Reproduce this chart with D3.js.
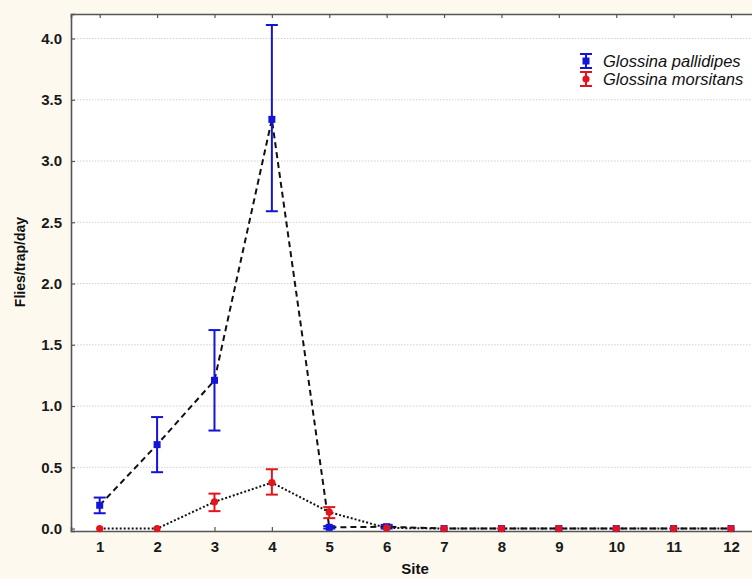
<!DOCTYPE html>
<html>
<head>
<meta charset="utf-8">
<script src="https://cdn.jsdelivr.net/npm/d3@7"></script>
<style>
  body { margin: 0; background: #fdf9ee; }
  svg { display: block; font-family: "Liberation Sans", Arial, sans-serif; }
</style>
</head>
<body>
<svg></svg>
<script>
const sites = [1, 2, 3, 4, 5, 6, 7, 8, 9, 10, 11, 12];
const pallidipesMean = [0.19, 0.685, 1.21, 3.34, 0.01, 0.015, 0, 0, 0, 0, 0, 0];
const pallidipesLow  = [0.125, 0.46, 0.80, 2.59, 0.0, 0.0, 0, 0, 0, 0, 0, 0];
const pallidipesHigh = [0.253, 0.91, 1.62, 4.11, 0.02, 0.03, 0, 0, 0, 0, 0, 0];
const morsitansMean = [0, 0, 0.218, 0.375, 0.134, 0.005, 0, 0, 0, 0, 0, 0];
const morsitansLow  = [0, 0, 0.142, 0.277, 0.085, 0.0, 0, 0, 0, 0, 0, 0];
const morsitansHigh = [0, 0, 0.285, 0.484, 0.175, 0.01, 0, 0, 0, 0, 0, 0];
const yTicks = [0, 0.5, 1.0, 1.5, 2.0, 2.5, 3.0, 3.5, 4.0];
const seriesNames = ['Glossina pallidipes', 'Glossina morsitans'];

const width = 752;
const height = 579;
const plotLeft = 71, plotTop = 14, plotBottom = 531;

const blue = '#1414d8';
const red = '#e4141c';

const svg = d3.select('svg')
    .attr('width', width)
    .attr('height', height);

const x = d3.scaleLinear().domain([0.5, 12.5]).range([plotLeft, 759.7]);
const y = d3.scaleLinear().domain([-0.02, 4.2]).range([plotBottom, plotTop]);

// plot area
svg.append('rect')
    .attr('x', plotLeft).attr('y', plotTop)
    .attr('width', width - plotLeft).attr('height', plotBottom - plotTop)
    .attr('fill', '#ffffff');

// grid
svg.append('g').selectAll('line')
    .data(yTicks.filter(d => d > 0))
    .enter().append('line')
    .attr('x1', plotLeft).attr('x2', width)
    .attr('y1', d => y(d)).attr('y2', d => y(d))
    .attr('stroke', '#d0d0d0')
    .attr('stroke-width', 1)
    .attr('stroke-dasharray', '1.5,1.5');

// axes
const yAxis = d3.axisLeft(y).tickValues(yTicks).tickFormat(d3.format('.1f')).tickSize(-4).tickPadding(9);
const gy = svg.append('g').attr('transform', 'translate(' + plotLeft + ',0)').call(yAxis);
const xAxis = d3.axisBottom(x).tickValues(sites).tickSize(-4).tickPadding(10);
const gx = svg.append('g').attr('transform', 'translate(0,' + plotBottom + ')').call(xAxis);
const xTop = d3.axisTop(x).tickValues(sites).tickSize(-4).tickFormat('');
const gt = svg.append('g').attr('transform', 'translate(0,' + plotTop + ')').call(xTop);

[gy, gx, gt].forEach(g => {
    g.select('.domain').attr('stroke', '#555').attr('stroke-width', 1.6);
    g.selectAll('.tick line').attr('stroke', '#555').attr('stroke-width', 1.2);
    g.selectAll('.tick text')
        .attr('fill', '#1a1a1a')
        .style('font-size', '15px')
        .style('font-weight', 'bold');
});

// lines
const line = d3.line().x((d, i) => x(sites[i])).y(d => y(d));

svg.append('path')
    .datum(pallidipesMean)
    .attr('d', line)
    .attr('fill', 'none')
    .attr('stroke', '#111')
    .attr('stroke-width', 2)
    .attr('stroke-dasharray', '6,4');

svg.append('path')
    .datum(morsitansMean)
    .attr('d', line)
    .attr('fill', 'none')
    .attr('stroke', '#111')
    .attr('stroke-width', 2)
    .attr('stroke-dasharray', '2,2');

function errorBars(mean, low, high, color, marker) {
    const g = svg.append('g');
    const pts = g.selectAll('g.pt')
        .data(mean.map((m, i) => ({ site: sites[i], m: m, lo: low[i], hi: high[i] })))
        .enter().append('g').attr('class', 'pt');
    const withBar = pts.filter(d => d.hi - d.lo > 0.015);
    withBar.append('line')
        .attr('x1', d => x(d.site)).attr('x2', d => x(d.site))
        .attr('y1', d => y(d.lo)).attr('y2', d => y(d.hi))
        .attr('stroke', color).attr('stroke-width', 2);
    ['lo', 'hi'].forEach(k => {
        withBar.append('line')
            .attr('x1', d => x(d.site) - 6).attr('x2', d => x(d.site) + 6)
            .attr('y1', d => y(d[k])).attr('y2', d => y(d[k]))
            .attr('stroke', color).attr('stroke-width', 2);
    });
    if (marker === 'square') {
        pts.append('rect')
            .attr('x', d => x(d.site) - 3.5).attr('y', d => y(d.m) - 3.5)
            .attr('width', 7).attr('height', 7)
            .attr('fill', color);
    } else {
        pts.append('circle')
            .attr('cx', d => x(d.site)).attr('cy', d => y(d.m))
            .attr('r', 3.6)
            .attr('fill', color);
    }
}

errorBars(pallidipesMean, pallidipesLow, pallidipesHigh, blue, 'square');
errorBars(morsitansMean, morsitansLow, morsitansHigh, red, 'circle');

// legend
const legend = svg.append('g');
[blue, red].forEach((c, i) => {
    const cy = 61 + i * 18;
    const cx = 586;
    legend.append('line').attr('x1', cx).attr('x2', cx).attr('y1', cy - 7).attr('y2', cy + 7)
        .attr('stroke', c).attr('stroke-width', 2);
    legend.append('line').attr('x1', cx - 6).attr('x2', cx + 6).attr('y1', cy - 7).attr('y2', cy - 7)
        .attr('stroke', c).attr('stroke-width', 2);
    legend.append('line').attr('x1', cx - 6).attr('x2', cx + 6).attr('y1', cy + 7).attr('y2', cy + 7)
        .attr('stroke', c).attr('stroke-width', 2);
    if (i === 0) {
        legend.append('rect').attr('x', cx - 3.5).attr('y', cy - 3.5).attr('width', 7).attr('height', 7).attr('fill', c);
    } else {
        legend.append('circle').attr('cx', cx).attr('cy', cy).attr('r', 3.6).attr('fill', c);
    }
    legend.append('text')
        .attr('x', 603).attr('y', cy + 6)
        .attr('fill', '#111')
        .style('font-size', '16.5px')
        .style('font-style', 'italic')
        .text(seriesNames[i]);
});

// axis titles
svg.append('text')
    .attr('transform', 'translate(25,' + 262 + ') rotate(-90)')
    .attr('text-anchor', 'middle')
    .attr('fill', '#111')
    .style('font-size', '14px')
    .style('font-weight', 'bold')
    .text('Flies/trap/day');

svg.append('text')
    .attr('x', 415).attr('y', 574)
    .attr('text-anchor', 'middle')
    .attr('fill', '#111')
    .style('font-size', '15px')
    .style('font-weight', 'bold')
    .text('Site');
</script>
</body>
</html>
